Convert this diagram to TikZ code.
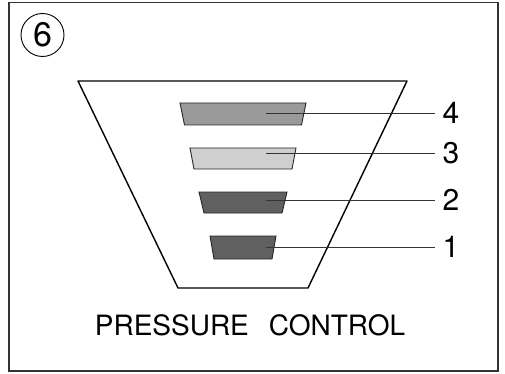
\documentclass[tikz,border=0pt]{standalone}
\usepackage{fontspec}
\setmainfont{TeX Gyre Heros}
\usetikzlibrary{calc, positioning}

\definecolor{framegray}{HTML}{333333}
\definecolor{barmid}{HTML}{9A9A9A}
\definecolor{barlight}{HTML}{CFCFCF}
\definecolor{bardark}{HTML}{606060}

\begin{document}
\begin{tikzpicture}[x=1pt,y=-1pt,
  bar/.style={draw=black!85,line width=0.9pt},
  leader/.style={draw=black!80,line width=0.8pt},
  digit/.style={inner xsep=7pt,inner ysep=0pt,font=\fontsize{30pt}{32pt}\selectfont}]
\useasboundingbox (0,0) rectangle (505,374);
\draw[framegray,line width=1.6pt] (9,2.5) rectangle (498,371);

\node[circle,draw,line width=0.9pt,minimum size=43pt,inner sep=0pt,
  font=\fontsize{34pt}{36pt}\selectfont] (num) at (42.5,35) {6};

% funnel
\draw[line width=1.4pt,line join=round] (78,81) -- (407,81) -- (308,288) -- (178,288) -- cycle;

% bars: number / top y / bottom y / half top / half bottom / fill / leader y
\foreach \num/\ytop/\ybot/\wtop/\wbot/\col/\ly in {4/103/125/63/58.5/barmid/113,
    3/148/169/53/49/barlight/153,
    2/192/213/44/39/bardark/200,
    1/236/259/33/29/bardark/247} {
  \draw[bar,fill=\col] (243-\wtop,\ytop) -- (243+\wtop,\ytop)
    -- (243+\wbot,\ybot) -- (243-\wbot,\ybot) -- cycle;
  \coordinate (c\num) at (266,\ly);
  \node[digit] (l\num) at (451,\ly) {\num};
  \draw[leader] (c\num) -- (l\num.west);
}

\node[font=\fontsize{28pt}{30pt}\selectfont] (title) at (250,325)
  {PRESSURE\hspace{20pt}CONTROL};
\end{tikzpicture}
\end{document}
